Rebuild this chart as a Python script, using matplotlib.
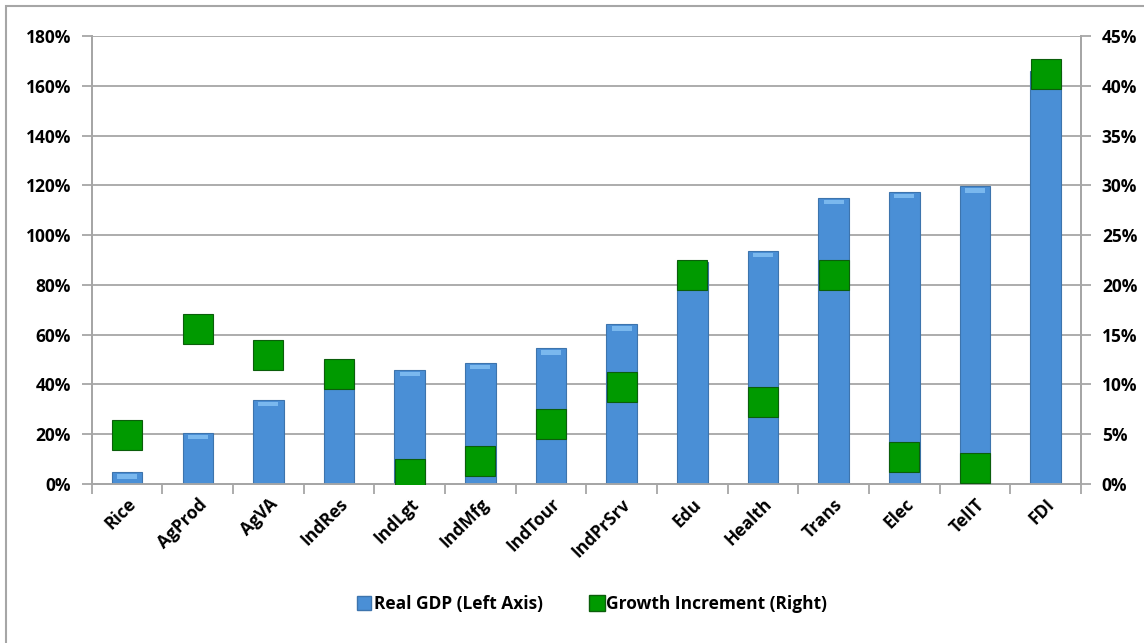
import matplotlib
matplotlib.use('Agg')
import matplotlib.pyplot as plt
from matplotlib.patches import Rectangle
from matplotlib.ticker import FuncFormatter, MultipleLocator
from matplotlib.lines import Line2D

# Données
secteurs = ['Rice', 'AgProd', 'AgVA', 'IndRes', 'IndLgt', 'IndMfg', 'IndTour',
            'IndPrSrv', 'Edu', 'Health', 'Trans', 'Elec', 'TelIT', 'FDI']
pib_reel = [4.8, 20.5, 33.8, 49, 46, 48.8, 54.5, 64.2, 89, 93.8, 115, 117.4, 119.6, 166]
increment = [4.9, 15.6, 13.0, 11.0, 1.0, 2.3, 6.0, 9.7, 21.0, 8.2, 21.0, 2.7, 1.6, 41.2]

bleu = '#4a8fd6'
bleu_bord = '#3d74ad'
vert = '#009a00'
vert_bord = '#0b5e0b'
gris = '#a6a6a6'

plt.rcParams['font.family'] = ['Open Sans', 'DejaVu Sans']
plt.rcParams['font.weight'] = 'bold'

fig = plt.figure(figsize=(11.44, 6.43), dpi=100, facecolor='white')

# cadre extérieur du graphique
fig.patches.append(Rectangle((6 / 1144, -0.1), 1.2, 1.1 - 6 / 643,
                             transform=fig.transFigure, fill=False,
                             edgecolor=gris, linewidth=1.5))

ax = fig.add_axes([91.7 / 1144, 1 - 484 / 643, (1081 - 91.7) / 1144, 448 / 643])
ax2 = ax.twinx()

x = list(range(len(secteurs)))
ax.bar(x, pib_reel, 0.43, color=bleu, edgecolor=bleu_bord, linewidth=0.8, zorder=3)
# léger reflet en haut des barres
ax.bar(x, [1.8] * len(x), 0.28, bottom=[v - 2.6 for v in pib_reel],
       color='#7ab8ee', linewidth=0, zorder=3.5)

ax2.plot(x, increment, linestyle='none', marker='s', markersize=21.5,
         markerfacecolor=vert, markeredgecolor=vert_bord, markeredgewidth=0.8,
         zorder=5)

ax.set_xlim(-0.5, len(secteurs) - 0.5)
ax.set_ylim(0, 180)
ax2.set_ylim(0, 45)
ax.yaxis.set_major_locator(MultipleLocator(20))
ax2.yaxis.set_major_locator(MultipleLocator(5))
ax.yaxis.set_major_formatter(FuncFormatter(lambda v, p: '%d%%' % round(v)))
ax2.yaxis.set_major_formatter(FuncFormatter(lambda v, p: '%d%%' % round(v)))

ax.grid(axis='y', color=gris, linewidth=1.3, zorder=0)
ax.set_axisbelow(True)

# graduations entre les catégories
ax.set_xticks([i + 0.5 for i in range(-1, len(secteurs))], minor=False)
ax.set_xticklabels([])
ax.set_xticks(x, minor=True)
ax.set_xticklabels(secteurs, minor=True, rotation=45, ha='right',
                   rotation_mode='anchor', fontsize=12.5, fontweight='bold')
ax.tick_params(axis='x', which='minor', length=0, pad=8)
ax.tick_params(axis='x', which='major', length=7, color=gris, width=1.3)

ax.tick_params(axis='y', length=7, color=gris, width=1.3, labelsize=12.5, pad=8)
ax2.tick_params(axis='y', length=7, color=gris, width=1.3, labelsize=12.5, pad=8)

for a in (ax, ax2):
    a.spines['top'].set_visible(False)
    for s in ('left', 'right', 'bottom'):
        a.spines[s].set_color(gris)
        a.spines[s].set_linewidth(1.3)

handles = [Line2D([], [], linestyle='none', marker='s', markersize=10,
                  markerfacecolor=bleu, markeredgecolor=bleu_bord),
           Line2D([], [], linestyle='none', marker='s', markersize=12,
                  markerfacecolor=vert, markeredgecolor=vert_bord)]
fig.legend(handles, ['Real GDP (Left Axis)', 'Growth Increment (Right)'],
           loc='center', bbox_to_anchor=(0.517, 1 - 604 / 643), ncol=2,
           frameon=False, handletextpad=0.05, columnspacing=2.6,
           prop={'size': 12.5, 'weight': 'bold'}, handlelength=1.0)

fig.savefig('out.png', dpi=100, facecolor='white')
plt.close()
